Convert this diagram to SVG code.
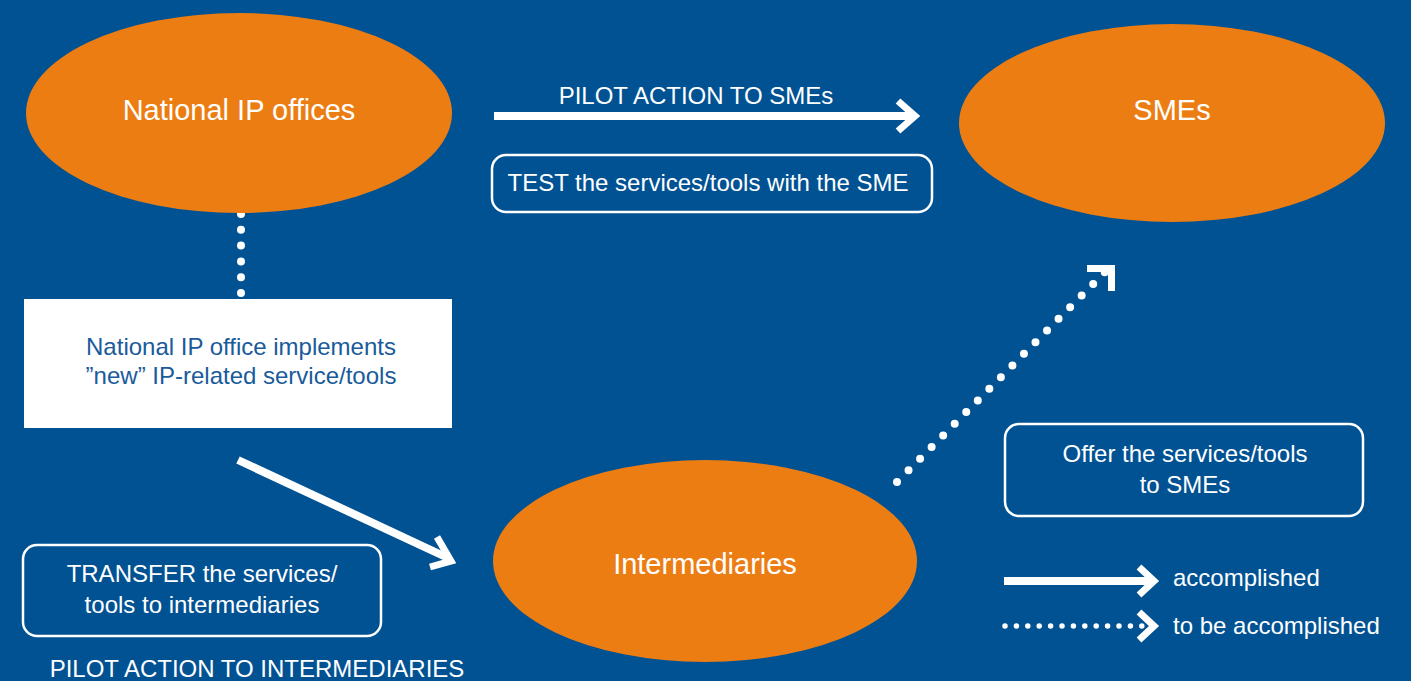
<svg xmlns="http://www.w3.org/2000/svg" width="1411" height="681" viewBox="0 0 1411 681">
<style>
.bg{fill:#015293}
.ell{fill:#EC7D13}
.big{font-family:"Liberation Sans",Arial,sans-serif;font-size:29px;fill:#ffffff;text-anchor:middle}
.txt{font-family:"Liberation Sans",Arial,sans-serif;font-size:24px;fill:#ffffff;text-anchor:middle}
.dark{fill:#1A5B9A}
.box{fill:none;stroke:#ffffff;stroke-width:2.5}
.solid{fill:none;stroke:#ffffff;stroke-width:8;stroke-linecap:butt}
.head{fill:none;stroke:#ffffff;stroke-width:7;stroke-linejoin:miter}
.dots{fill:none;stroke:#ffffff;stroke-linecap:round}
</style>
<rect class="bg" x="0" y="0" width="1411" height="681"/>
<g id="connectors">
  <line class="dots" x1="241" y1="214" x2="241" y2="297" stroke-width="8" stroke-dasharray="0 15.8"/>
  <line class="solid" x1="494" y1="116" x2="913" y2="116"/>
  <polyline class="head" points="898,101 915,116 898,131"/>
  <line class="solid" x1="238" y1="460" x2="448" y2="558"/>
  <polyline class="head" points="437,537 451,561 430,567"/>
  <line class="dots" x1="897" y1="482" x2="1105" y2="272" stroke-width="8" stroke-dasharray="0 16.4"/>
  <polyline class="head" points="1087,268.5 1111.5,268.5 1111.5,291" stroke-width="8"/>
</g>
<g id="national-ip-offices">
  <ellipse class="ell" cx="239" cy="113" rx="213" ry="100"/>
  <text class="big" x="239" y="120">National IP offices</text>
</g>
<g id="smes">
  <ellipse class="ell" cx="1172" cy="123" rx="213" ry="99"/>
  <text class="big" x="1172" y="120">SMEs</text>
</g>
<g id="intermediaries">
  <ellipse class="ell" cx="705" cy="561" rx="212" ry="101"/>
  <text class="big" x="705" y="574">Intermediaries</text>
</g>
<g id="implements-box">
  <rect x="24" y="299" width="428" height="129" fill="#ffffff"/>
  <text class="txt dark" x="241" y="355">National IP office implements</text>
  <text class="txt dark" x="241" y="384">”new” IP-related service/tools</text>
</g>
<g id="pilot-smes-label">
  <text class="txt" x="696" y="104">PILOT ACTION TO SMEs</text>
</g>
<g id="test-box">
  <rect class="box" x="492" y="155" width="440" height="57" rx="14"/>
  <text class="txt" x="708" y="191">TEST the services/tools with the SME</text>
</g>
<g id="offer-box">
  <rect class="box" x="1005" y="424" width="358" height="92" rx="14"/>
  <text class="txt" x="1185" y="462">Offer the services/tools</text>
  <text class="txt" x="1185" y="493">to SMEs</text>
</g>
<g id="transfer-box">
  <rect class="box" x="23" y="545" width="358" height="91" rx="14"/>
  <text class="txt" x="202" y="582">TRANSFER the services/</text>
  <text class="txt" x="202" y="613">tools to intermediaries</text>
</g>
<g id="pilot-intermediaries-label">
  <text class="txt" x="257" y="677">PILOT ACTION TO INTERMEDIARIES</text>
</g>
<g id="legend">
  <line class="solid" x1="1004" y1="581" x2="1152" y2="581" stroke-width="6"/>
  <polyline class="head" points="1139,567 1154,581 1139,595" stroke-width="6"/>
  <text class="txt" x="1173" y="586" style="text-anchor:start">accomplished</text>
  <line class="dots" x1="1005" y1="626" x2="1142" y2="626" stroke-width="5.5" stroke-dasharray="0 11.4"/>
  <polyline class="head" points="1139,612 1154,626 1139,640" stroke-width="6"/>
  <text class="txt" x="1173" y="634" style="text-anchor:start">to be accomplished</text>
</g>
</svg>
